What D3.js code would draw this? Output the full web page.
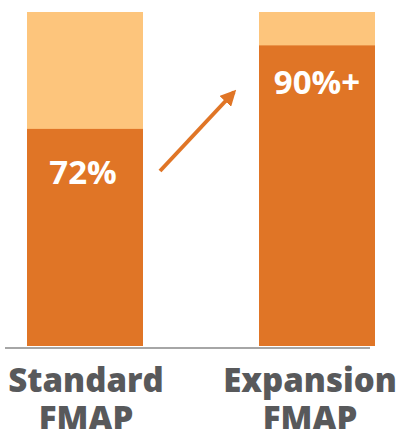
<!DOCTYPE html>
<html>
<head>
<meta charset="utf-8">
<script src="https://d3js.org/d3.v7.min.js"></script>
<style>
  body { margin: 0; background: #fff; }
  svg { display: block; }
  .cat { font-family: "Open Sans", sans-serif; font-weight: 800; fill: #58595b; }
  .val { font-family: "Open Sans", sans-serif; font-weight: 700; fill: #fff; }
</style>
</head>
<body>
<svg width="398" height="429"></svg>
<script>
// data
var categories = ['Standard FMAP', 'Expansion FMAP'];
var shares = [65, 90];          // bar height (percent of full column)
var labels = ['72%', '90%+'];
var total = 100;

var svg = d3.select('svg');

var x = d3.scaleBand().domain(categories).range([27, 375]).paddingInner(0.5).paddingOuter(0);
var y = d3.scaleLinear().domain([0, total]).range([346, 12]);

// full (light) columns
svg.append('g')
  .selectAll('rect')
  .data(categories)
  .enter()
  .append('rect')
  .attr('x', function(d) { return x(d); })
  .attr('y', y(total))
  .attr('width', x.bandwidth())
  .attr('height', y(0) - y(total))
  .attr('fill', '#fdc57c');

// filled share
svg.append('g')
  .selectAll('rect')
  .data(shares)
  .enter()
  .append('rect')
  .attr('x', function(d, i) { return x(categories[i]); })
  .attr('y', function(d) { return y(d); })
  .attr('width', x.bandwidth())
  .attr('height', function(d) { return y(0) - y(d); })
  .attr('fill', '#e07526');

// value labels
svg.append('g')
  .selectAll('text')
  .data(shares)
  .enter()
  .append('text')
  .attr('class', 'val')
  .attr('x', function(d, i) { return x(categories[i]) + x.bandwidth() / 2 - (i ? 0 : 2); })
  .attr('y', function(d, i) { return y(d) + (i ? 49 : 55); })
  .attr('text-anchor', 'middle')
  .attr('font-size', 33)
  .text(function(d, i) { return labels[i]; });

// baseline
svg.append('line')
  .attr('x1', 5).attr('x2', 370)
  .attr('y1', y(0) + 2).attr('y2', y(0) + 2)
  .attr('stroke', '#a6a6a6')
  .attr('stroke-width', 2);

// category labels, two lines each
var cat = svg.append('g')
  .selectAll('text')
  .data(categories)
  .enter()
  .append('text')
  .attr('class', 'cat')
  .attr('font-size', 33)
  .attr('text-anchor', 'middle')
  .attr('x', function(d, i) { return x(d) + x.bandwidth() / 2 + (i ? -7 : 1); })
  .attr('y', 392);
cat.selectAll('tspan')
  .data(function(d) { return d.split(' '); })
  .enter()
  .append('tspan')
  .attr('x', function() { return d3.select(this.parentNode).attr('x'); })
  .attr('dy', function(d, i) { return i ? 38 : 0; })
  .text(function(d) { return d; });

// arrow
var defs = svg.append('defs');
defs.append('marker')
  .attr('id', 'head')
  .attr('viewBox', '0 0 10 10')
  .attr('refX', 8).attr('refY', 5)
  .attr('markerWidth', 4).attr('markerHeight', 4)
  .attr('orient', 'auto')
  .append('path')
  .attr('d', 'M0,0 L10,5 L0,10 z')
  .attr('fill', '#e07526');

svg.append('line')
  .attr('x1', 160).attr('y1', 171)
  .attr('x2', 234).attr('y2', 92)
  .attr('stroke', '#e07526')
  .attr('stroke-width', 4)
  .attr('marker-end', 'url(#head)');
</script>
</body>
</html>
